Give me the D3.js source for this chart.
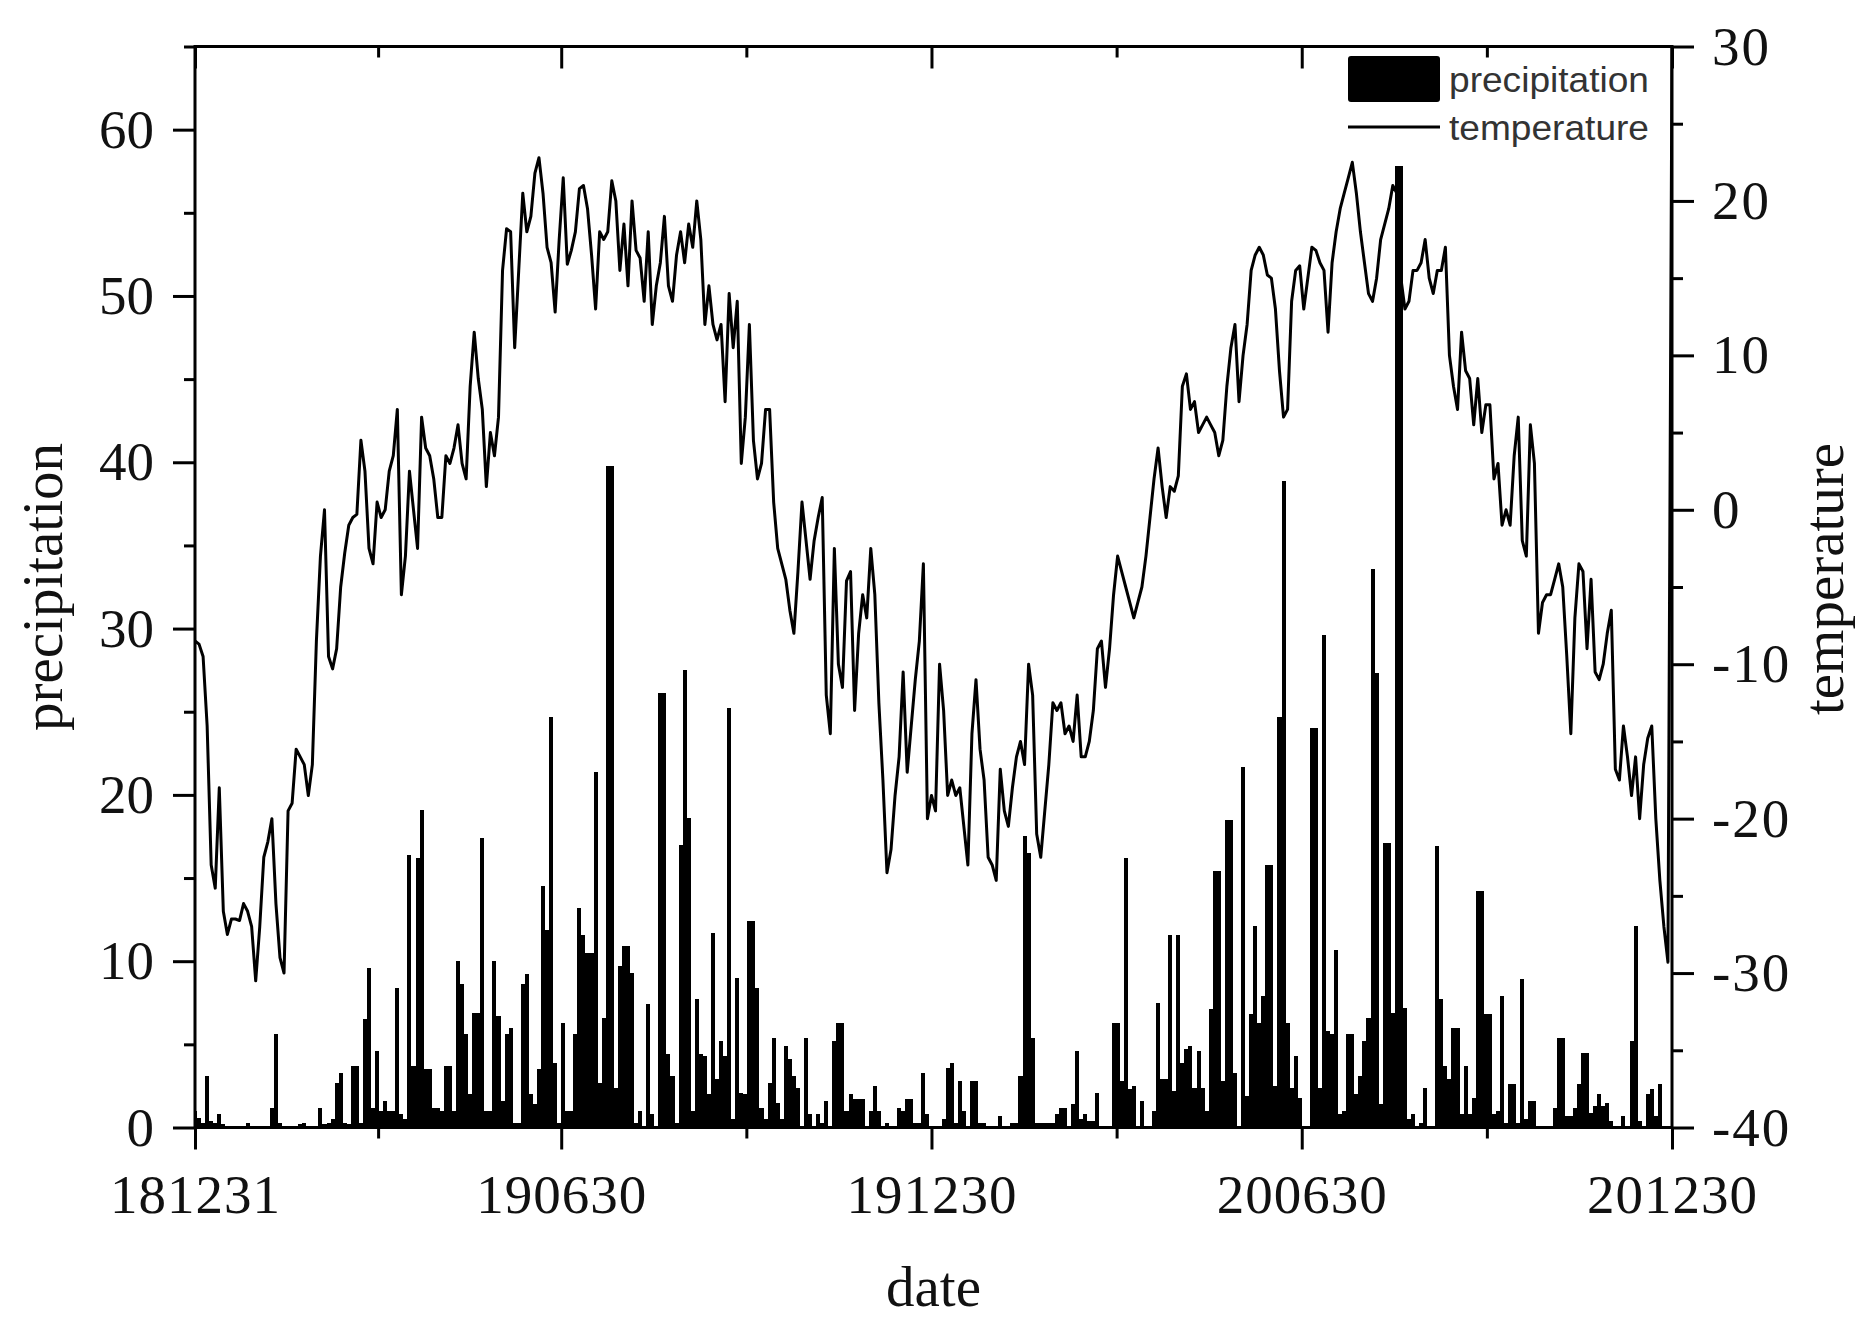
<!DOCTYPE html>
<html>
<head>
<meta charset="utf-8">
<script src="https://cdn.jsdelivr.net/npm/d3@7/dist/d3.min.js"></script>
<style>
  html, body { margin: 0; padding: 0; background: #ffffff; }
  svg { display: block; }
</style>
</head>
<body>
<svg id="chart" width="1876" height="1338"></svg>
<script>
// ---------------- data ----------------
const startDate = "2018-12-31";
const endDate = "2020-12-30";
const stepDays = 2; // one value every two days
const xTickDates = ["2018-12-31", "2019-06-30", "2019-12-30", "2020-06-30", "2020-12-30"];
const xTickLabels = ["181231", "190630", "191230", "200630", "201230"];
const precipTicks = [0, 10, 20, 30, 40, 50, 60];
const precipMinorTicks = [5, 15, 25, 35, 45, 55, 65];
const tempTicks = [-40, -30, -20, -10, 0, 10, 20, 30];
const tempMinorTicks = [-35, -25, -15, -5, 5, 15, 25];
const seriesNames = ["precipitation", "temperature"];

const temperature = [
  -8.5, -8.7, -9.5, -14, -23, -24.5, -18, -26, -27.5, -26.5,
  -26.5, -26.6, -25.5, -26, -27, -30.5, -27, -22.5, -21.5, -20,
  -25.5, -29, -30, -19.5, -19, -15.5, -16, -16.5, -18.5, -16.5,
  -8.5, -3, 0, -9.5, -10.3, -9, -5, -2.8, -1, -0.5,
  -0.3, 4.5, 2.5, -2.5, -3.5, 0.5, -0.5, 0, 2.5, 3.5,
  6.5, -5.5, -3, 2.5, 0, -2.5, 6, 4, 3.5, 2,
  -0.5,
  -0.5, 3.5, 3.0, 4.0, 5.5, 3.0, 2.0, 8.0, 11.5, 8.5,
  6.5, 1.5, 5.0, 3.5, 6.0, 15.5, 18.2, 18.0, 10.5, 15.5,
  20.5, 18.0, 19.0, 21.8, 22.8, 20.5, 17.0, 16.0, 12.8, 17.5,
  21.5, 15.9, 16.8, 18.0, 20.8, 21.0, 19.5, 16.5, 13.0, 18.0,
  17.5, 18.0, 21.3, 20.0, 15.5, 18.5, 14.5, 20.0, 16.8, 16.3,
  13.5, 18.0, 12.0, 14.5, 16.0, 19.0, 14.5, 13.5, 16.5, 18.0,
  16.0, 18.5,
  17.0, 20.0, 17.5, 12.0, 14.5, 12.0, 11.0, 12.0, 7.0, 14.0,
  10.5, 13.5, 3.0, 6.0, 12.0, 4.5, 2.0, 3.0, 6.5, 6.5,
  0.5, -2.5, -3.5, -4.5, -6.5, -8.0, -4.0, 0.5, -2.0, -4.5,
  -2.0, -0.5, 0.8, -12.0, -14.5, -2.5, -10.0, -11.5, -4.6, -4.0,
  -13.0, -8.0, -5.5, -7.0, -2.5, -5.5, -12.5, -17.5, -23.5, -22.0,
  -18.5, -16.0, -10.5, -17.0, -14.0, -11.0, -8.5, -3.5, -20.0, -18.5,
  -19.5, -10.0,
  -13, -18.5, -17.5, -18.5, -18.0, -20.5, -23.0, -14.5, -11.0, -15.5,
  -17.5, -22.5, -23.0, -24.0, -16.8, -19.5, -20.5, -18.0, -16.0, -15.0,
  -16.5, -10.0, -12.0, -21.0, -22.5, -19.5, -16.5, -12.5, -13.0, -12.5,
  -14.5, -14.0, -15.0, -12.0, -16.0, -16.0, -15.0, -13.0, -9.0, -8.5,
  -11.5, -9.0, -5.5, -3.0, -4.0, -5.0, -6.0, -7.0, -6.0, -5.0,
  -3.0, -0.5, 2.0, 4.0, 1.5, -0.5, 1.5, 1.2, 2.2, 8.0,
  8.8, 6.5,
  7.0, 5.0, 5.5, 6.0, 5.5, 5.0, 3.5, 4.5, 8.0, 10.5,
  12.0, 7.0, 10.0, 12.0, 15.5, 16.5, 17.0, 16.5, 15.2, 15.0,
  13.0, 9.0, 6.0, 6.5, 13.5, 15.5, 15.8, 13.0, 15.0, 17.0,
  16.8, 16.0, 15.5, 11.5, 16.0, 18.0, 19.5, 20.5, 21.5, 22.5,
  20.5, 18.0, 16.0, 14.0, 13.5, 15.0, 17.5, 18.5, 19.5, 21.0,
  20.5, 15.0, 13.0, 13.5, 15.5, 15.5, 16.0, 17.5, 15.0, 14.0,
  15.5,
  15.5, 17.0, 10.0, 8.0, 6.5, 11.5, 9.0, 8.5, 5.5, 8.5,
  5.0, 6.8, 6.8, 2.0, 3.0, -1.0, 0.0, -1.0, 3.5, 6.0,
  -2.0, -3.0, 5.5, 3.0, -8.0, -6.0, -5.5, -5.5, -4.5, -3.5,
  -5.0, -9.5, -14.5, -7.0, -3.5, -4.0, -9.0, -4.5, -10.5, -11.0,
  -10.0, -8.0, -6.5, -16.8, -17.5, -14.0, -16.0, -18.5, -16.0, -20.0,
  -16.5, -14.8, -14.0, -20.0, -24.0, -27.0, -29.3, 30.5
];

const precipitation = [
  1.0, 0.6, 0.3, 3.1, 0.4, 0.3, 0.8, 0.2, 0.1, 0,
  0.1, 0, 0, 0.3, 0, 0.1, 0, 0, 0.1, 1.2,
  5.6, 0.3, 0, 0, 0, 0.1, 0.2, 0.3, 0, 0,
  0.1, 1.2, 0.2, 0.3, 0.5, 2.7, 3.3, 0.3, 0.2, 3.7,
  3.7, 0.3, 6.5, 9.6, 1.2, 4.6, 1.0, 1.6, 1.0, 1.0,
  8.4, 0.8, 0.5, 16.4, 3.7, 16.2, 19.1, 3.5, 3.5, 1.2,
  1.2,
  1.0, 3.7, 3.7, 1.0, 10.0, 8.6, 5.6, 2.0, 6.9, 6.9,
  17.4, 1.0, 1.0, 10.0, 6.7, 1.6, 5.6, 6.0, 0.3, 0.3,
  8.6, 9.2, 2.0, 1.4, 3.5, 14.5, 11.9, 24.7, 3.9, 0.3,
  6.3, 1.0, 1.0, 5.6, 13.2, 11.6, 10.5, 10.5, 21.4, 2.7,
  6.6, 39.8, 39.8, 2.4, 9.7, 10.9, 10.9, 9.3, 0.3, 1.0,
  0.1, 7.4, 0.8, 0, 26.1, 26.1, 4.4, 3.1, 0.3, 17.0,
  27.5, 18.6,
  1.0, 7.7, 4.4, 4.3, 2.0, 11.7, 2.9, 5.2, 4.3, 25.2,
  0.5, 9.0, 2.1, 2.0, 12.4, 12.4, 8.4, 1.2, 0.5, 2.7,
  5.4, 1.5, 0.5, 4.9, 4.1, 3.1, 2.4, 0.1, 5.4, 0.8,
  0.1, 0.8, 0.3, 1.6, 0, 5.2, 6.3, 6.3, 1.0, 2.0,
  1.7, 1.7, 1.7, 0, 1.0, 2.5, 1.0, 0, 0.3, 0,
  0, 1.2, 1.0, 1.7, 1.7, 0.3, 0.3, 3.3, 0.8, 0,
  0, 0,
  0.5, 3.6, 3.9, 0.3, 2.8, 1.0, 0, 2.8, 2.8, 0.3,
  0.3, 0.1, 0.1, 0, 0.7, 0.1, 0.1, 0.3, 0.3, 3.1,
  17.5, 16.5, 5.4, 0.3, 0.3, 0.3, 0.3, 0.3, 0.8, 1.2,
  1.2, 0.1, 1.4, 4.6, 0.5, 0.8, 0.4, 0.4, 2.1, 0.1,
  0.1, 0.1, 6.3, 6.3, 2.8, 16.2, 2.3, 2.5, 0.1, 1.6,
  0.1, 0.1, 1.0, 7.5, 2.9, 2.9, 11.6, 2.2, 11.6, 3.9,
  4.7, 4.9,
  2.4, 4.6, 2.4, 1.0, 7.1, 15.4, 15.4, 2.8, 18.5, 18.5,
  3.3, 0.1, 21.7, 1.9, 6.8, 12.1, 6.3, 7.9, 15.8, 15.8,
  2.5, 24.7, 38.9, 6.3, 2.4, 4.3, 1.8, 0.1, 0.1, 24.0,
  24.0, 2.4, 29.6, 5.8, 5.6, 10.7, 0.8, 1.0, 5.6, 5.6,
  2.0, 3.1, 5.2, 6.6, 33.6, 27.3, 1.4, 17.1, 17.1, 6.9,
  57.8, 57.8, 7.2, 0.5, 0.8, 0.1, 0.3, 2.4, 0, 0,
  16.9,
  7.7, 3.7, 2.9, 6.0, 6.0, 0.8, 3.7, 0.8, 1.8, 14.2,
  14.2, 6.8, 6.8, 0.8, 1.0, 7.9, 0.3, 2.6, 2.6, 0.3,
  8.9, 0.5, 1.6, 1.6, 0.1, 0.1, 0.1, 0.1, 1.2, 5.4,
  5.4, 0.7, 0.7, 1.2, 2.6, 4.5, 4.5, 0.9, 1.3, 2.0,
  1.3, 1.5, 0.4, 0, 0, 0.7, 0, 5.2, 12.1, 0.4,
  0, 2.0, 2.3, 0.7, 2.6, 0, 0, 0
];

// ---------------- drawing ----------------
(function draw() {
  const DAY = 86400000;
  const parse = d3.utcParse("%Y-%m-%d");
  const t0 = parse(startDate), t1 = parse(endDate);
  const dateAt = i => new Date(t0.getTime() + i * stepDays * DAY);

  const plot = { left: 195, right: 1672, top: 46.5, bottom: 1127.5 };
  const serif = "'Liberation Serif', 'Times New Roman', Times, serif";
  const sans = "'Liberation Sans', Arial, sans-serif";

  const x = d3.scaleUtc().domain([t0, t1]).range([plot.left, plot.right]);
  const yP = d3.scaleLinear().domain([0, 65]).range([plot.bottom, plot.top]);
  const yT = d3.scaleLinear().domain([-40, 30]).range([plot.bottom, plot.top]);

  const svg = d3.select("#chart");
  svg.append("rect").attr("width", 1876).attr("height", 1338).attr("fill", "#fff");

  svg.append("defs").append("clipPath").attr("id", "plotClip")
    .append("rect")
    .attr("x", plot.left).attr("y", plot.top)
    .attr("width", plot.right - plot.left).attr("height", plot.bottom - plot.top);

  const dataG = svg.append("g").attr("clip-path", "url(#plotClip)");

  // precipitation bars
  const precipData = precipitation.map((v, i) => ({ date: dateAt(i), v }));
  dataG.append("g").selectAll("rect")
    .data(precipData.filter(d => d.v > 0))
    .join("rect")
    .attr("x", d => x(new Date(d.date.getTime() - DAY)))
    .attr("width", d => x(new Date(d.date.getTime() + DAY)) - x(new Date(d.date.getTime() - DAY)))
    .attr("y", d => yP(d.v))
    .attr("height", d => yP(0) - yP(d.v))
    .attr("fill", "#000")
    .attr("shape-rendering", "crispEdges");

  // temperature line
  const tempData = temperature.map((v, i) => ({ date: dateAt(i), v }));
  dataG.append("path")
    .datum(tempData)
    .attr("fill", "none")
    .attr("stroke", "#000")
    .attr("stroke-width", 3)
    .attr("stroke-linejoin", "round")
    .attr("d", d3.line().x(d => x(d.date)).y(d => yT(d.v)));

  function styleAxis(g, fontSize) {
    g.select(".domain").remove();
    g.selectAll(".tick line").attr("stroke", "#000").attr("stroke-width", 3);
    g.selectAll(".tick text")
      .attr("fill", "#111")
      .style("font-family", serif)
      .style("font-size", fontSize + "px");
  }

  const majorLen = 22, minorLen = 11;
  const xTickD = xTickDates.map(parse);
  const xMinorD = xTickD.slice(1).map((d, i) => new Date((d.getTime() + xTickD[i].getTime()) / 2));

  // bottom axis
  const gBottom = svg.append("g").attr("transform", `translate(0,${plot.bottom})`)
    .call(d3.axisBottom(x).tickValues(xTickD).tickSize(majorLen).tickPadding(24)
      .tickFormat((d, i) => xTickLabels[i]));
  styleAxis(gBottom, 55);
  gBottom.selectAll(".tick text").attr("letter-spacing", "1px");
  const gBottomMinor = svg.append("g").attr("transform", `translate(0,${plot.bottom})`)
    .call(d3.axisBottom(x).tickValues(xMinorD).tickSize(minorLen).tickFormat(""));
  styleAxis(gBottomMinor, 10);

  // top axis (inward ticks)
  const gTop = svg.append("g").attr("transform", `translate(0,${plot.top})`)
    .call(d3.axisTop(x).tickValues(xTickD).tickSize(-majorLen).tickFormat(""));
  styleAxis(gTop, 10);
  const gTopMinor = svg.append("g").attr("transform", `translate(0,${plot.top})`)
    .call(d3.axisTop(x).tickValues(xMinorD).tickSize(-minorLen).tickFormat(""));
  styleAxis(gTopMinor, 10);

  // left axis
  const gLeft = svg.append("g").attr("transform", `translate(${plot.left},0)`)
    .call(d3.axisLeft(yP).tickValues(precipTicks).tickSize(majorLen).tickPadding(19)
      .tickFormat(d3.format("d")));
  styleAxis(gLeft, 55);
  const gLeftMinor = svg.append("g").attr("transform", `translate(${plot.left},0)`)
    .call(d3.axisLeft(yP).tickValues(precipMinorTicks).tickSize(minorLen).tickFormat(""));
  styleAxis(gLeftMinor, 10);

  // right axis
  const gRight = svg.append("g").attr("transform", `translate(${plot.right},0)`)
    .call(d3.axisRight(yT).tickValues(tempTicks).tickSize(majorLen).tickPadding(18)
      .tickFormat(d => (d < 0 ? "-" : "") + Math.abs(d)));
  styleAxis(gRight, 55);
  gRight.selectAll(".tick text").attr("letter-spacing", "2px");
  const gRightMinor = svg.append("g").attr("transform", `translate(${plot.right},0)`)
    .call(d3.axisRight(yT).tickValues(tempMinorTicks).tickSize(minorLen).tickFormat(""));
  styleAxis(gRightMinor, 10);

  // frame
  svg.append("rect")
    .attr("x", plot.left).attr("y", plot.top)
    .attr("width", plot.right - plot.left).attr("height", plot.bottom - plot.top)
    .attr("fill", "none").attr("stroke", "#000").attr("stroke-width", 3);

  // axis titles
  svg.append("text")
    .attr("x", (plot.left + plot.right) / 2).attr("y", 1306)
    .attr("text-anchor", "middle")
    .style("font-family", serif).style("font-size", "57px").attr("fill", "#111")
    .text("date");
  svg.append("text")
    .attr("transform", `translate(62,${(plot.top + plot.bottom) / 2}) rotate(-90)`)
    .attr("text-anchor", "middle")
    .style("font-family", serif).style("font-size", "57px").attr("fill", "#111")
    .text(seriesNames[0]);
  svg.append("text")
    .attr("transform", `translate(1843,579) rotate(-90)`)
    .attr("text-anchor", "middle")
    .style("font-family", serif).style("font-size", "57px").attr("fill", "#111")
    .text(seriesNames[1]);

  // legend
  const lg = svg.append("g");
  lg.append("rect").attr("x", 1348).attr("y", 56).attr("width", 92).attr("height", 46)
    .attr("rx", 3).attr("fill", "#000");
  lg.append("line").attr("x1", 1348).attr("x2", 1440).attr("y1", 127).attr("y2", 127)
    .attr("stroke", "#000").attr("stroke-width", 3);
  lg.append("text").attr("x", 1449).attr("y", 92)
    .attr("textLength", 200).attr("lengthAdjust", "spacingAndGlyphs")
    .style("font-family", sans).style("font-size", "35px").attr("fill", "#333")
    .text(seriesNames[0]);
  lg.append("text").attr("x", 1449).attr("y", 140)
    .attr("textLength", 200).attr("lengthAdjust", "spacingAndGlyphs")
    .style("font-family", sans).style("font-size", "35px").attr("fill", "#333")
    .text(seriesNames[1]);
})();
</script>
</body>
</html>
